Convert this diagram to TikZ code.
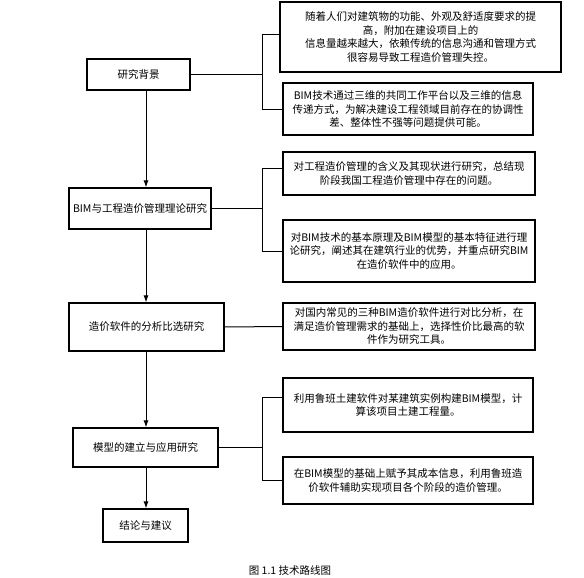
\documentclass[tikz,border=0pt]{standalone}
\usepackage{fontspec}
\setmainfont{Noto Sans CJK SC}
\usetikzlibrary{arrows.meta}
\tikzset{
  lbox/.style={draw, line width=1.1pt, rectangle, align=center, inner sep=2pt, font=\fontsize{10.5}{13}\selectfont},
  rbox/.style={draw, line width=1.1pt, rectangle, align=center, inner sep=2pt, font=\fontsize{10.5}{13.5}\selectfont},
  conn/.style={line width=1pt},
  arr/.style={line width=1pt, -{Latex[length=7pt,width=5pt]}}
}
\begin{document}
\begin{tikzpicture}[x=1pt,y=-1pt]
\useasboundingbox (0,0) rectangle (584,578);
% left column
\node[lbox, minimum width=103pt, minimum height=31pt] (L1) at (138.5,74.5) {研究背景};
\node[lbox, minimum width=142pt, minimum height=41pt] (L2) at (140,208.5) {BIM与工程造价管理理论研究};
\node[lbox, minimum width=155pt, minimum height=48pt] (L3) at (146.5,327) {造价软件的分析比选研究};
\node[lbox, minimum width=145pt, minimum height=39pt] (L4) at (145.5,447.5) {模型的建立与应用研究};
\node[lbox, minimum width=85pt, minimum height=33pt] (L5) at (145.5,525.5) {结论与建议};
% right column
\node[rbox, minimum width=281pt, minimum height=70pt] (R1) at (420.5,37) {随着人们对建筑物的功能、外观及舒适度要求的提\\高，附加在建设项目上的\\信息量越来越大，依赖传统的信息沟通和管理方式\\很容易导致工程造价管理失控。};
\node[rbox, minimum width=250pt, minimum height=52pt] (R2) at (408,109) {BIM技术通过三维的共同工作平台以及三维的信息\\传递方式，为解决建设工程领域目前存在的协调性\\差、整体性不强等问题提供可能。};
\node[rbox, minimum width=252pt, minimum height=43pt] (R3) at (409,173.5) {对工程造价管理的含义及其现状进行研究，总结现\\阶段我国工程造价管理中存在的问题。};
\node[rbox, minimum width=252pt, minimum height=62pt] (R4) at (409,251) {对BIM技术的基本原理及BIM模型的基本特征进行理\\论研究，阐述其在建筑行业的优势，并重点研究BIM\\在造价软件中的应用。};
\node[rbox, minimum width=252pt, minimum height=47pt] (R5) at (409,326.5) {对国内常见的三种BIM造价软件进行对比分析，在\\满足造价管理需求的基础上，选择性价比最高的软\\件作为研究工具。};
\node[rbox, minimum width=250pt, minimum height=54pt] (R6) at (408,405) {利用鲁班土建软件对某建筑实例构建BIM模型，计\\算该项目土建工程量。};
\node[rbox, minimum width=250pt, minimum height=47pt] (R7) at (408,480.5) {在BIM模型的基础上赋予其成本信息，利用鲁班造\\价软件辅助实现项目各个阶段的造价管理。};
% caption
\node[font=\fontsize{10.5}{13}\selectfont] (cap) at (290,571) {图 1.1 技术路线图};
% coordinates
\coordinate (ax) at (146,0);
\coordinate (bx) at (262,0);
% vertical arrows
\draw[arr] (L1.south -| ax) -- (L2.north -| ax);
\draw[arr] (L2.south -| ax) -- (L3.north -| ax);
\draw[arr] (L3.south -| ax) -- (L4.north -| ax);
\draw[arr] (L4.south -| ax) -- (L5.north -| ax);
% branches
\draw[conn] (L1.east) -- (L1.east -| bx);
\draw[conn] ([yshift=2pt]R1.west) -- ([yshift=2pt]R1.west -| bx) -- (R2.west -| bx) -- (R2.west);
\draw[conn] (L2.east) -- (L2.east -| bx);
\draw[conn] ([yshift=5.5pt]R3.west) -- ([yshift=5.5pt]R3.west -| bx) -- (R4.west -| bx) -- (R4.west);
\draw[conn] (L3.east) -- (R5.west);
\draw[conn] (L4.east) -- (L4.east -| bx);
\draw[conn] ([yshift=8pt]R6.west) -- ([yshift=8pt]R6.west -| bx) -- (R7.west -| bx) -- (R7.west);
\end{tikzpicture}
\end{document}
